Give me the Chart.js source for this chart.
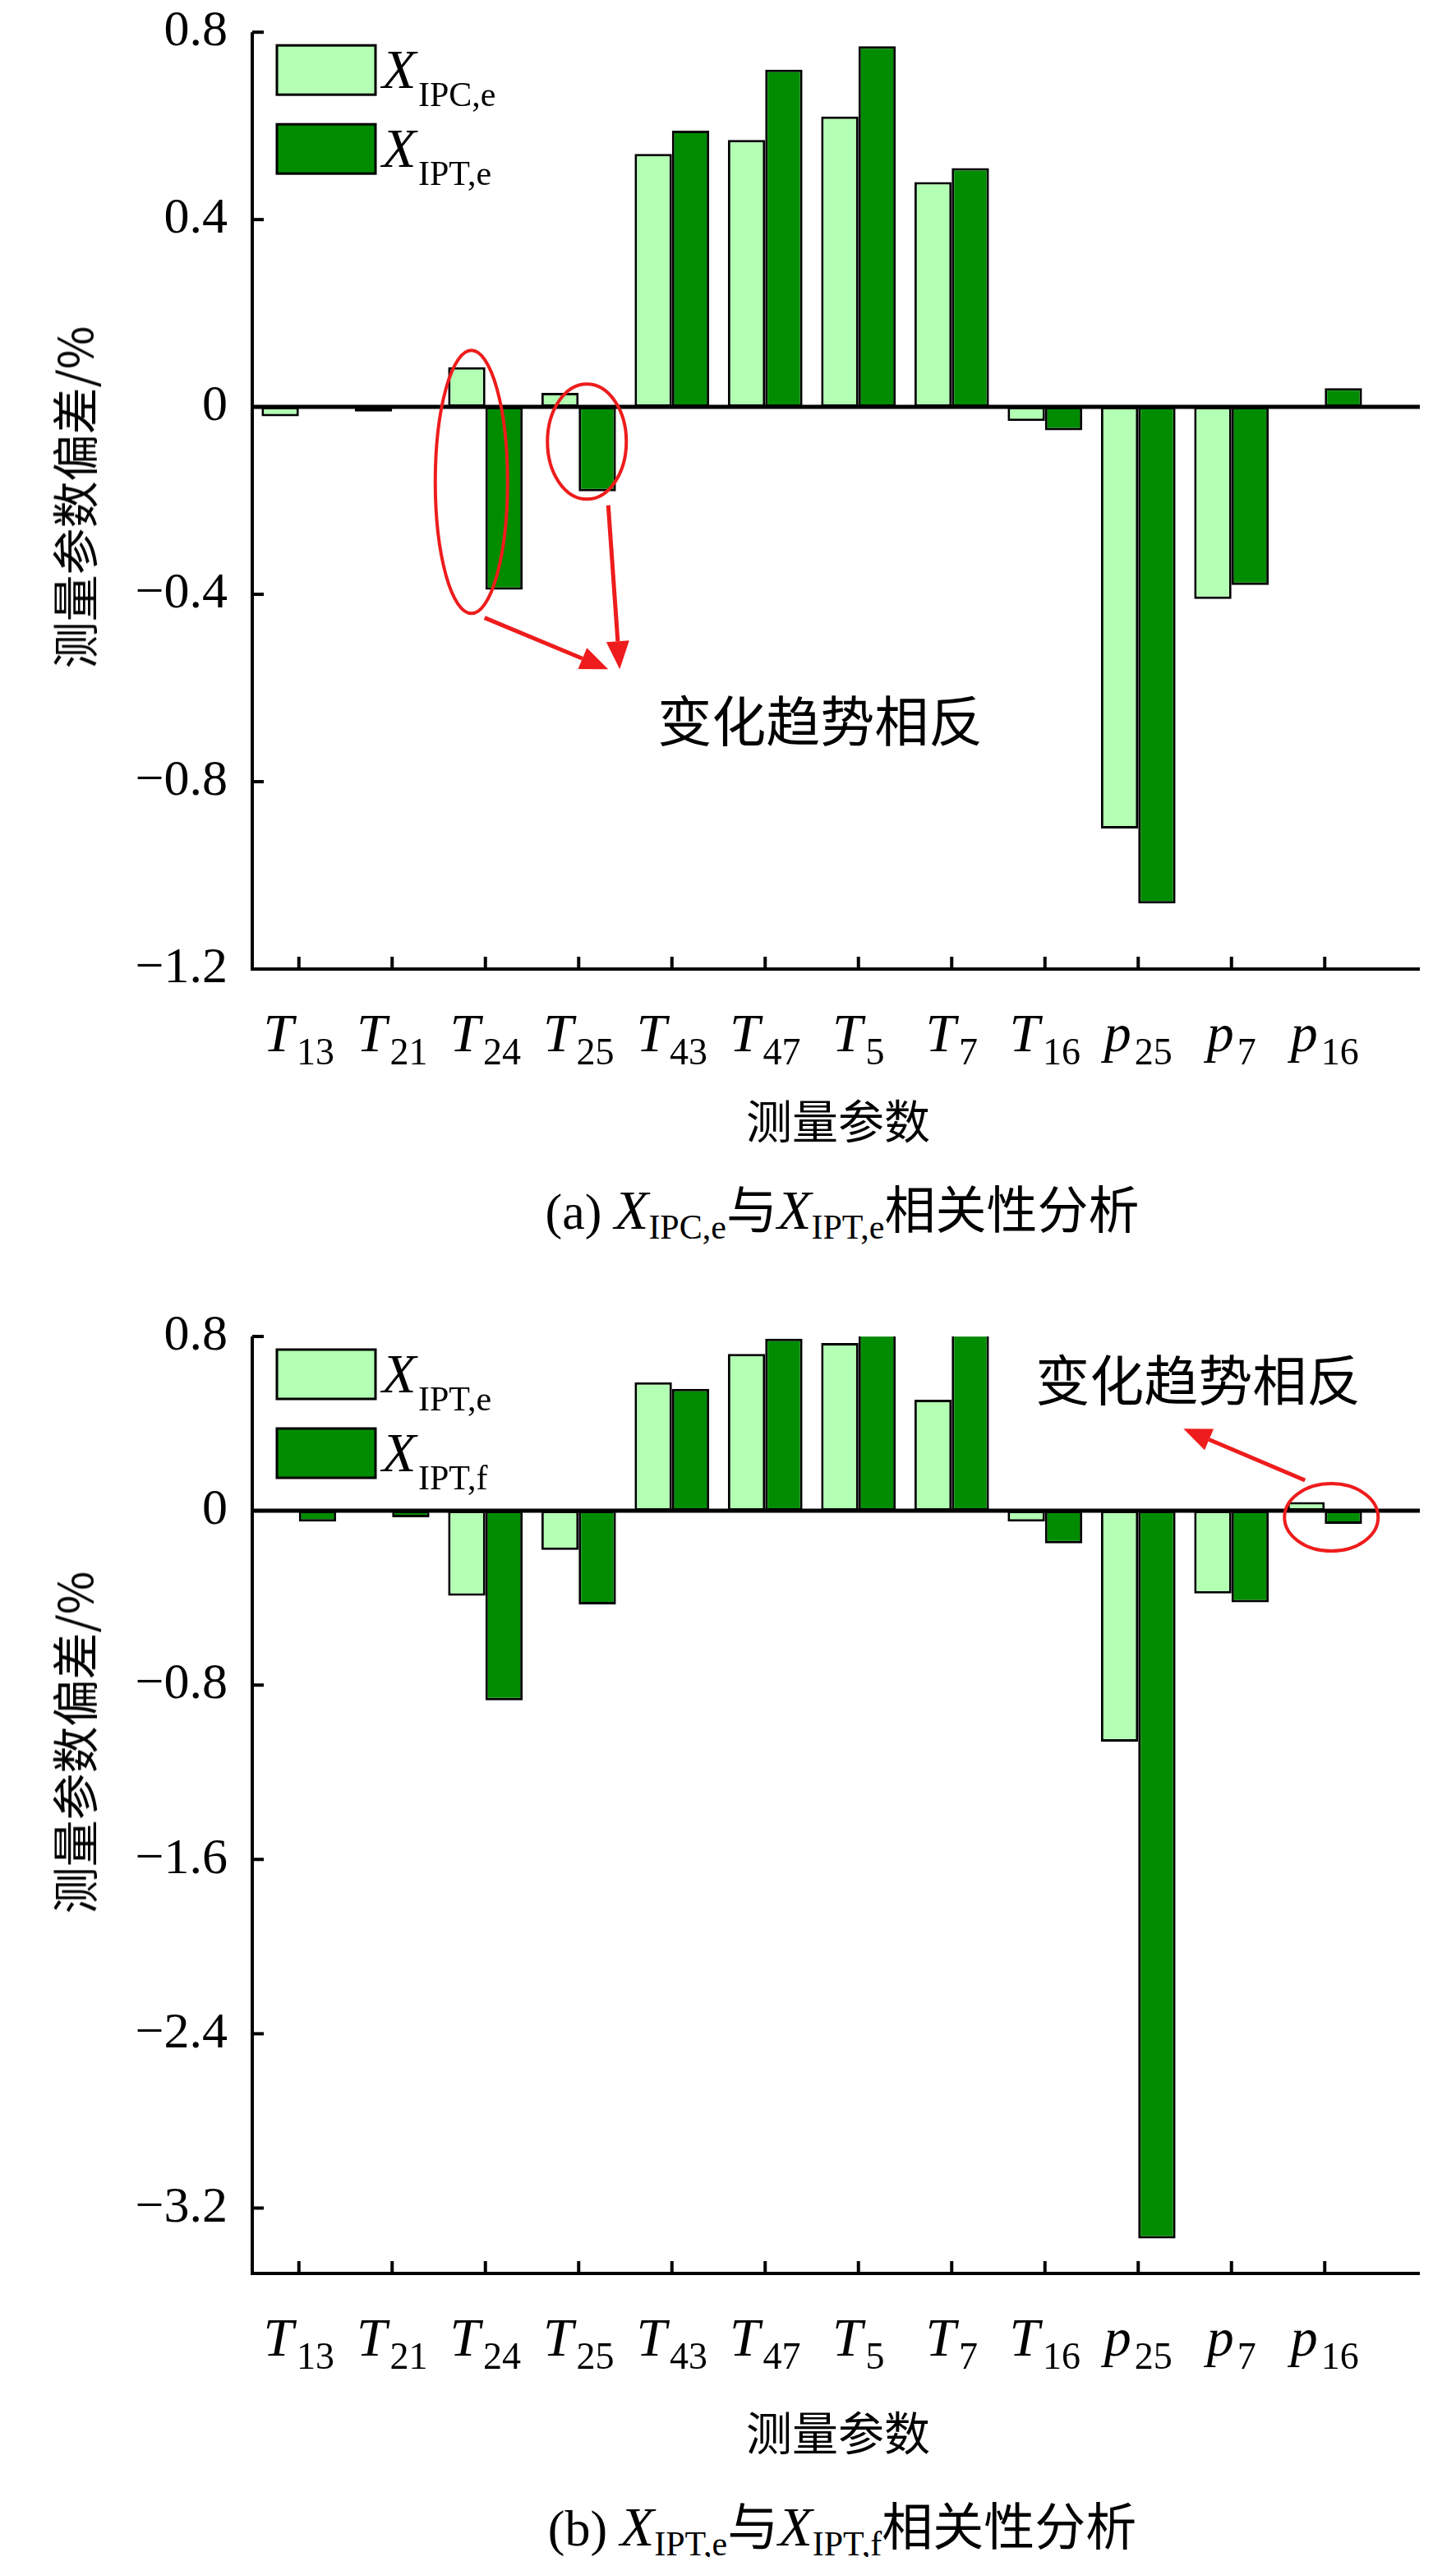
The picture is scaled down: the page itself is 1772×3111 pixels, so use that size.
<!DOCTYPE html>
<html><head><meta charset="utf-8">
<script src="https://cdn.jsdelivr.net/npm/chart.js@4/dist/chart.umd.min.js"></script>
<style>
body{margin:0;width:1772px;height:3111px;background:#fff;position:relative;overflow:hidden}
.cv{position:absolute;left:0}
.t{position:absolute;font-family:"Liberation Serif","Noto Sans CJK SC",serif;color:#000;white-space:nowrap}
.cap{font-size:62px}
.cap i{font-size:68px}
.cap sub{font-size:42px;vertical-align:-12px;font-style:normal}
.cj{font-family:"Noto Sans CJK SC";}
</style></head><body>
<div class="cv" style="top:-20px"><canvas id="ca" width="1772" height="1330" style="width:1772px;height:1330px"></canvas></div>
<div class="cv" style="top:1560px"><canvas id="cb" width="1772" height="1330" style="width:1772px;height:1330px"></canvas></div>
<div class="t cj" style="left:88px;top:605px;font-size:57px;transform:translate(-50%,-50%) rotate(-90deg)">测量参数偏差/%</div>
<div class="t cj" style="left:1020px;top:1360px;font-size:56px;transform:translate(-50%,-50%)">测量参数</div>
<div class="t cap" style="left:1025px;top:1470px;transform:translate(-50%,-50%)">(a) <i>X</i><sub>IPC,e</sub><span class="cj">与</span><i>X</i><sub>IPT,e</sub><span class="cj">相关性分析</span></div>
<div class="t cj" style="left:88px;top:2120px;font-size:57px;transform:translate(-50%,-50%) rotate(-90deg)">测量参数偏差/%</div>
<div class="t cj" style="left:1020px;top:2956px;font-size:56px;transform:translate(-50%,-50%)">测量参数</div>
<div class="t cap" style="left:1025px;top:3072px;transform:translate(-50%,-50%)">(b) <i>X</i><sub>IPT,e</sub><span class="cj">与</span><i>X</i><sub>IPT,f</sub><span class="cj">相关性分析</span></div>
<script>
const catMain = ['T','T','T','T','T','T','T','T','T','p','p','p'];
const catSub  = ['13','21','24','25','43','47','5','7','16','25','7','16'];
const categories = catMain.map((m,i)=>m+catSub[i]);
const aIPCe = [-0.02,-0.01,0.085,0.03,0.54,0.57,0.62,0.48,-0.03,-0.90,-0.41,0.0];
const aIPTe = [0.003,0.0,-0.39,-0.18,0.59,0.72,0.77,0.51,-0.05,-1.06,-0.38,0.04];
const bIPTe = [0.0,0.0,-0.39,-0.18,0.59,0.72,0.77,0.51,-0.05,-1.06,-0.38,0.04];
const bIPTf = [-0.05,-0.03,-0.87,-0.43,0.56,0.79,0.81,0.81,-0.15,-3.34,-0.42,-0.06];
const ticksA = [0.8,0.4,0,-0.4,-0.8,-1.2];
const ticksB = [0.8,0,-0.8,-1.6,-2.4,-3.2];
const LIGHT='#b3ffb3', DARK='#008c00', RED='#ee1c1c';

function fmt(v){ if(Math.abs(v)<1e-9) return '0'; return (v<0?'\u2212':'')+Math.abs(v).toFixed(1); }

function arrow(ctx,x1,y1,x2,y2){
  ctx.save();ctx.strokeStyle=RED;ctx.fillStyle=RED;ctx.lineWidth=5;
  const a=Math.atan2(y2-y1,x2-x1), L=34, W=14;
  const bx=x2-L*Math.cos(a), by=y2-L*Math.sin(a);
  ctx.beginPath();ctx.moveTo(x1,y1);ctx.lineTo(bx,by);ctx.stroke();
  ctx.beginPath();ctx.moveTo(x2,y2);
  ctx.lineTo(bx+W*Math.sin(a),by-W*Math.cos(a));
  ctx.lineTo(bx-W*Math.sin(a),by+W*Math.cos(a));ctx.closePath();ctx.fill();
  ctx.restore();
}
function ellipse(ctx,cx,cy,rx,ry){
  ctx.save();ctx.strokeStyle=RED;ctx.lineWidth=4;ctx.beginPath();
  ctx.ellipse(cx,cy,rx,ry,0,0,Math.PI*2);ctx.stroke();ctx.restore();
}

function makeChart(id,s1,s2,names,tickVals,min,max,padTop,xH,annot){
  const deco={
    id:'deco',
    afterDatasetsDraw(ch){
      const {ctx,chartArea:ca,scales:{x,y}}=ch;
      const xr=ca.right+59;
      ctx.save();
      ctx.strokeStyle='#000';ctx.lineWidth=5;
      const y0=y.getPixelForValue(0);
      ctx.beginPath();ctx.moveTo(ca.left,y0);ctx.lineTo(xr,y0);ctx.stroke();
      ctx.lineWidth=4;
      ctx.beginPath();ctx.moveTo(ca.left,ca.top);ctx.lineTo(ca.left,ca.bottom);ctx.lineTo(xr,ca.bottom);ctx.stroke();
      tickVals.forEach(v=>{const p=y.getPixelForValue(v);ctx.beginPath();ctx.moveTo(ca.left,p);ctx.lineTo(ca.left+14,p);ctx.stroke();});
      categories.forEach((c,i)=>{const p=x.getPixelForValue(i);ctx.beginPath();ctx.moveTo(p,ca.bottom);ctx.lineTo(p,ca.bottom-15);ctx.stroke();});
      ctx.fillStyle='#000';ctx.textBaseline='alphabetic';
      categories.forEach((c,i)=>{
        const p=x.getPixelForValue(i);
        ctx.font='italic 66px "Liberation Serif"';
        const w1=ctx.measureText(catMain[i]).width;
        ctx.font='46px "Liberation Serif"';
        const w2=ctx.measureText(catSub[i]).width;
        const st=p-(w1+w2+4)/2;
        ctx.font='italic 66px "Liberation Serif"';ctx.textAlign='left';
        ctx.fillText(catMain[i],st,ca.bottom+100);
        ctx.font='46px "Liberation Serif"';
        ctx.fillText(catSub[i],st+w1+4,ca.bottom+116);
      });
      const lx=ca.left+30, ly=ca.top+16;
      [[LIGHT,names[0]],[DARK,names[1]]].forEach((e,k)=>{
        const ty=ly+k*96;
        ctx.fillStyle=e[0];ctx.fillRect(lx,ty,120,60);
        ctx.lineWidth=3;ctx.strokeStyle='#000';ctx.strokeRect(lx,ty,120,60);
        ctx.fillStyle='#000';ctx.font='italic 68px "Liberation Serif"';ctx.textAlign='left';
        ctx.fillText('X',lx+128,ty+52);
        ctx.font='42px "Liberation Serif"';ctx.fillText(e[1],lx+172,ty+74);
      });
      annot(ctx,x,y,ca);
      ctx.restore();
    }
  };
  return new Chart(document.getElementById(id),{
    type:'bar',
    data:{labels:categories,datasets:[
      {data:s1,backgroundColor:LIGHT,borderColor:'#000',borderWidth:3,borderSkipped:false},
      {data:s2,backgroundColor:DARK,borderColor:'#000',borderWidth:3,borderSkipped:false}]},
    options:{
      responsive:false,animation:false,devicePixelRatio:1,
      layout:{padding:{top:padTop,right:103,left:0,bottom:0}},
      plugins:{legend:{display:false},tooltip:{enabled:false}},
      datasets:{bar:{categoryPercentage:0.8,barPercentage:1}},
      scales:{
        x:{grid:{display:false},border:{display:false},ticks:{display:false},
           afterFit(s){s.height=xH;}},
        y:{min:min,max:max,grid:{display:false},border:{display:false},
           afterBuildTicks(s){s.ticks=tickVals.map(v=>({value:v}));},
           afterFit(s){s.width=307;},
           ticks:{autoSkip:false,padding:22,color:'#000',font:{family:'Liberation Serif',size:62},callback:v=>fmt(v)}}
      }
    },
    plugins:[deco]
  });
}

makeChart('ca',aIPCe,aIPTe,['IPC,e','IPT,e'],ticksA,-1.2,0.8,40,131,(ctx,x,y,ca)=>{
  const c2=x.getPixelForValue(2), c3=x.getPixelForValue(3);
  ellipse(ctx,c2-17,y.getPixelForValue(-0.16),44,160);
  ellipse(ctx,c3+10,y.getPixelForValue(-0.074),48,70);
  const tx=c3+36, ty=y.getPixelForValue(-0.56);
  arrow(ctx,c2-1,y.getPixelForValue(-0.45),tx,ty);
  arrow(ctx,c3+36,y.getPixelForValue(-0.21),tx+14,ty);
  ctx.fillStyle='#000';ctx.font='66px "Noto Sans CJK SC"';ctx.textAlign='left';ctx.textBaseline='middle';
  ctx.fillText('变化趋势相反',c3+96,y.getPixelForValue(-0.67));
});
makeChart('cb',bIPTe,bIPTf,['IPT,e','IPT,f'],ticksB,-3.5,0.8,66,124,(ctx,x,y,ca)=>{
  const c11=x.getPixelForValue(11);
  ellipse(ctx,c11+8,y.getPixelForValue(-0.03),57,41);
  arrow(ctx,c11-24,y.getPixelForValue(0.14),c11-172,y.getPixelForValue(0.377));
  ctx.fillStyle='#000';ctx.font='66px "Noto Sans CJK SC"';ctx.textAlign='left';ctx.textBaseline='middle';
  ctx.fillText('变化趋势相反',c11-352,y.getPixelForValue(0.6));
});
</script>
</body></html>
